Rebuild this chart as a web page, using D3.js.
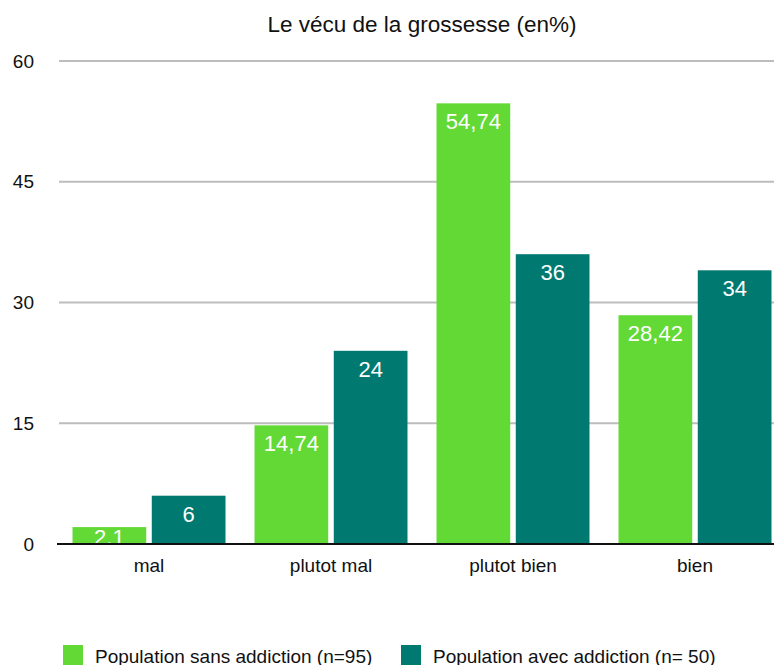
<!DOCTYPE html>
<html>
<head>
<meta charset="utf-8">
<script src="https://cdn.jsdelivr.net/npm/d3@7"></script>
<style>
  html, body { margin: 0; padding: 0; background: #fff; }
  svg { display: block; font-family: "Liberation Sans", Arial, Helvetica, sans-serif; }
</style>
</head>
<body>
<svg id="chart" width="774" height="665"></svg>
<script>
const categories = ["mal", "plutot mal", "plutot bien", "bien"];
const seriesNames = ["Population sans addiction (n=95)", "Population avec addiction (n= 50)"];
const sansAddiction = [2.1, 14.74, 54.74, 28.42];
const avecAddiction = [6, 24, 36, 34];
const yTicks = [0, 15, 30, 45, 60];
const colors = ["#63d936", "#007a70"];
const title = "Le vécu de la grossesse (en%)";

const series = [sansAddiction, avecAddiction];
const svg = d3.select("#chart");

const x0 = d3.scaleBand().domain(categories).range([58, 786])
  .paddingInner(29 / 182).paddingOuter(14.5 / 182);
const x1 = d3.scaleBand().domain(d3.range(series.length)).range([0, x0.bandwidth()])
  .paddingInner(0.07);
const y = d3.scaleLinear().domain([0, 60]).range([544, 61]);

svg.append("defs").append("clipPath").attr("id", "plotclip")
  .append("rect").attr("x", 0).attr("y", 0).attr("width", 800).attr("height", y(0) - 1);

// title
svg.append("text").attr("x", 422).attr("y", 32).attr("text-anchor", "middle")
  .attr("font-size", 22.5).attr("fill", "#111").text(title);

// grid
const yAxis = d3.axisLeft(y).tickValues(yTicks).tickSize(0).tickPadding(0)
  .tickFormat(d3.format("d"));
const gy = svg.append("g").attr("transform", "translate(34,0)").call(yAxis);
gy.select(".domain").remove();
gy.selectAll("text").attr("font-size", 19).attr("fill", "#111")
  .attr("font-family", "Liberation Sans, Arial, sans-serif");

svg.append("g").selectAll("line").data(yTicks.filter(d => d > 0)).join("line")
  .attr("x1", 59).attr("x2", 774)
  .attr("y1", d => y(d)).attr("y2", d => y(d))
  .attr("stroke", "#bdbdbd").attr("stroke-width", 2);

// bars
const groups = svg.append("g").selectAll("g").data(categories).join("g")
  .attr("transform", d => `translate(${x0(d)},0)`);

groups.each(function(cat, ci) {
  const g = d3.select(this);
  series.forEach((vals, si) => {
    const v = vals[ci];
    g.append("rect")
      .attr("x", x1(si)).attr("width", x1.bandwidth())
      .attr("y", y(v)).attr("height", y(0) - y(v))
      .attr("fill", colors[si]);
  });
});

const labels = svg.append("g").attr("clip-path", "url(#plotclip)");
categories.forEach((cat, ci) => {
  series.forEach((vals, si) => {
    const v = vals[ci];
    labels.append("text")
      .attr("x", x0(cat) + x1(si) + x1.bandwidth() / 2)
      .attr("y", Math.min(y(v) + 26, y(0) + 1))
      .attr("text-anchor", "middle").attr("font-size", 22).attr("fill", "#fff")
      .text(String(v).replace(".", ","));
  });
});

// baseline axis
const xAxis = d3.axisBottom(x0).tickSize(0).tickPadding(0);
const gx = svg.append("g").attr("transform", `translate(0,${y(0)})`).call(xAxis);
gx.select(".domain").attr("stroke", "#111").attr("stroke-width", 2)
  .attr("d", "M57,0H786");
gx.selectAll("text").attr("font-size", 19).attr("fill", "#111").attr("dy", null)
  .attr("y", 28).attr("font-family", "Liberation Sans, Arial, sans-serif");

// legend
const legendX = [63, 401];
const lg = svg.append("g").selectAll("g").data(seriesNames).join("g")
  .attr("transform", (d, i) => `translate(${legendX[i]},645)`);
lg.append("rect").attr("width", 20).attr("height", 20).attr("fill", (d, i) => colors[i]);
lg.append("text").attr("x", 32).attr("y", 18).attr("font-size", 19).attr("fill", "#111")
  .text(d => d);
</script>
</body>
</html>
